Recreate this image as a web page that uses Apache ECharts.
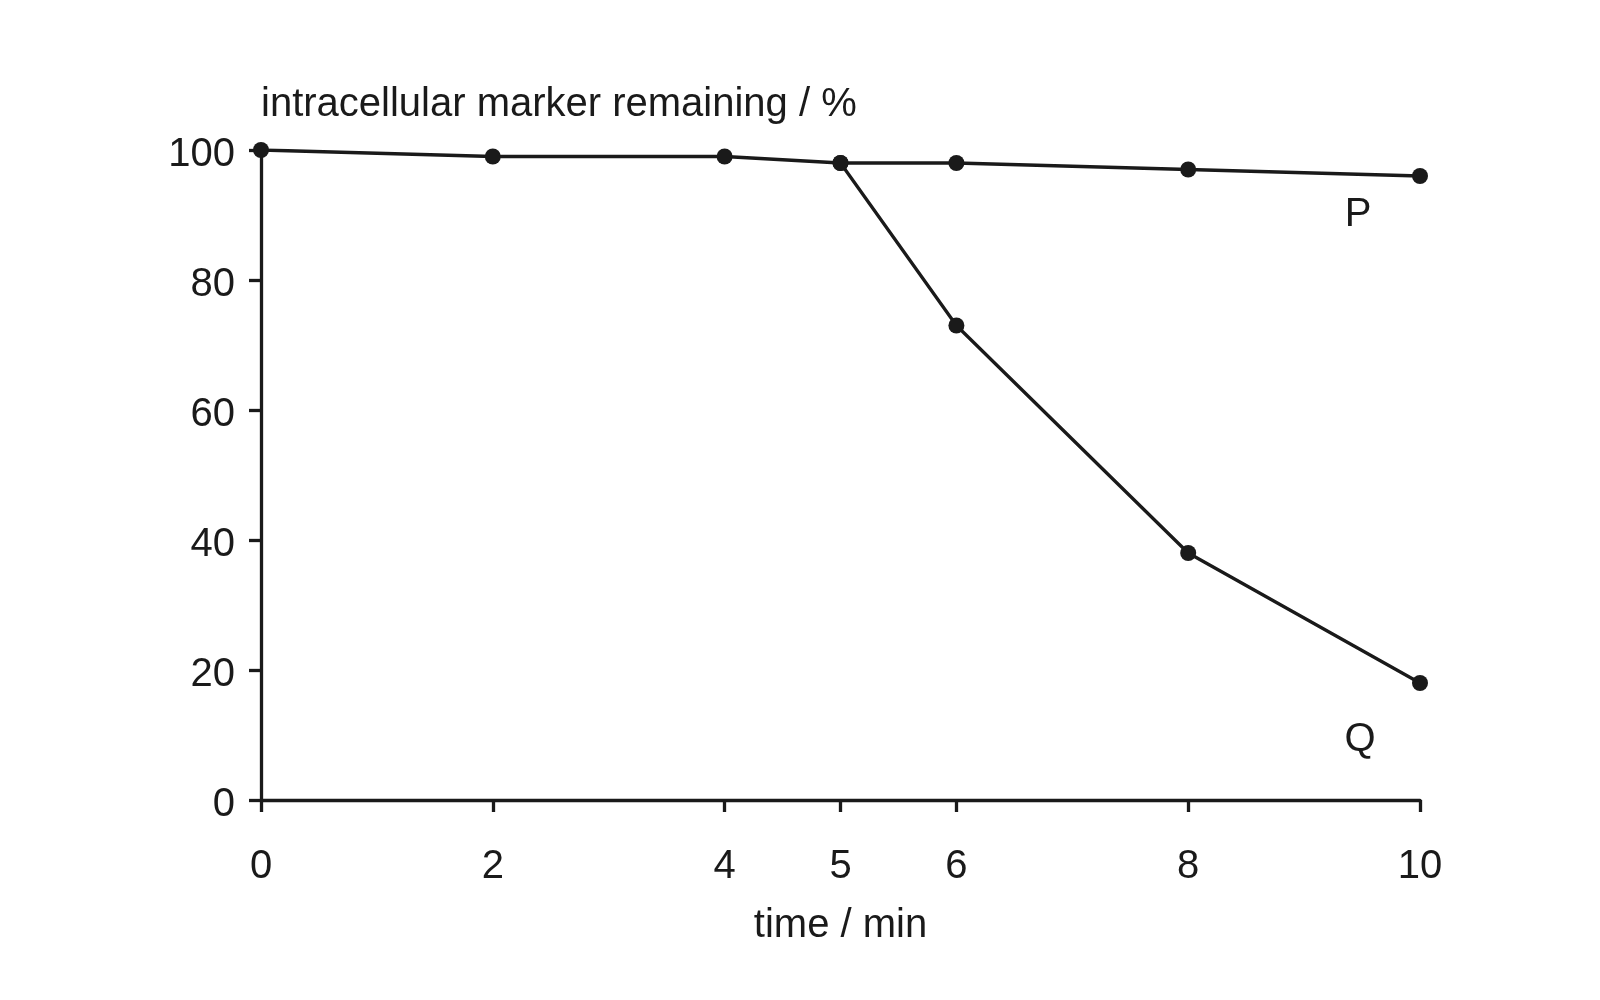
<!DOCTYPE html>
<html>
<head>
<meta charset="utf-8">
<script src="https://cdn.jsdelivr.net/npm/echarts@6/dist/echarts.min.js"></script>
<style>
html,body{margin:0;padding:0;background:#fff;}
#c{width:1600px;height:1000px;}
</style>
</head>
<body>
<div id="c"></div>
<script>
var xTicks = [0, 2, 4, 5, 6, 8, 10];
var yTicks = [0, 20, 40, 60, 80, 100];
var timeP = [0, 2, 4, 5, 6, 8, 10];
var valuesP = [100, 99, 99, 98, 98, 97, 96];
var timeQ = [5, 6, 8, 10];
var valuesQ = [98, 73, 38, 18];
var seriesNames = ['P', 'Q'];
var xName = 'time / min';
var yName = 'intracellular marker remaining / %';

var ink = '#1a1a1a';
var font = 'Liberation Sans, Arial, Helvetica, sans-serif';
var fs = 40;

function build(xs, ys, name, offset) {
  return xs.map(function (x, i) {
    var item = { value: [x, ys[i]] };
    if (i === xs.length - 1) {
      item.label = {
        show: true, formatter: name, position: 'inside', offset: offset,
        color: ink, fontSize: fs, fontFamily: font
      };
    }
    return item;
  });
}

var chart = echarts.init(document.getElementById('c'));
chart.setOption({
  animation: false,
  backgroundColor: '#fff',
  grid: { left: 261, right: 180, top: 150, bottom: 200, containLabel: false },
  xAxis: {
    type: 'value', min: 0, max: 10,
    name: xName, nameLocation: 'middle', nameGap: 106,
    nameTextStyle: { color: ink, fontSize: fs, fontFamily: font },
    axisLine: { show: true, onZero: false, lineStyle: { color: ink, width: 3.3 } },
    axisTick: { show: true, length: 12, inside: false, customValues: xTicks, lineStyle: { color: ink, width: 3.3 } },
    axisLabel: { show: true, margin: 47, customValues: xTicks, color: ink, fontSize: fs, fontFamily: font },
    splitLine: { show: false }
  },
  yAxis: {
    type: 'value', min: 0, max: 100, interval: 20,
    name: yName, nameLocation: 'end', nameGap: 25,
    nameTextStyle: { color: ink, fontSize: fs, fontFamily: font, align: 'left' },
    axisLine: { show: true, onZero: false, lineStyle: { color: ink, width: 3.3 } },
    axisTick: { show: true, length: 12, customValues: yTicks, lineStyle: { color: ink, width: 3.3 } },
    axisLabel: { show: true, margin: 26, customValues: yTicks, color: ink, fontSize: fs, fontFamily: font, lineHeight: 50, verticalAlign: 'top', padding: [-20, 0, 0, 0] },
    splitLine: { show: false }
  },
  series: [
    {
      name: seriesNames[0], type: 'line',
      data: build(timeP, valuesP, seriesNames[0], [-62, 39]),
      symbol: 'circle', symbolSize: 16,
      lineStyle: { color: ink, width: 3.3 },
      itemStyle: { color: ink }
    },
    {
      name: seriesNames[1], type: 'line',
      data: build(timeQ, valuesQ, seriesNames[1], [-60, 57]),
      symbol: 'circle', symbolSize: 16,
      lineStyle: { color: ink, width: 3.3 },
      itemStyle: { color: ink }
    }
  ]
});
</script>
</body>
</html>
